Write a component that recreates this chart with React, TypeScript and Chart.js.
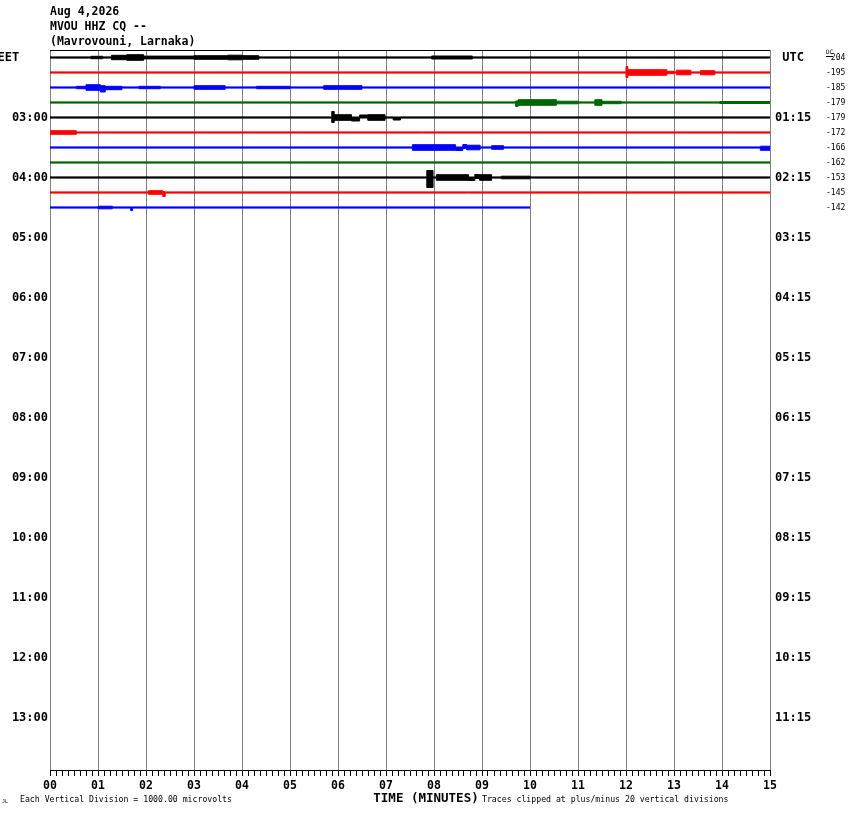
import { useEffect, useRef } from "react";
import { Chart, registerables } from "chart.js";

Chart.register(...registerables);

// ---------- text ----------
const TITLE_LINES = ["Aug 4,2026", "MVOU HHZ CQ --", "(Mavrovouni, Larnaka)"];
const EET_LABELS = ["EET    ", "03:00", "04:00", "05:00", "06:00", "07:00", "08:00", "09:00", "10:00", "11:00", "12:00", "13:00"];
const UTC_LABELS = [" UTC", "01:15", "02:15", "03:15", "04:15", "05:15", "06:15", "07:15", "08:15", "09:15", "10:15", "11:15"];
const DC_LABELS = [" 204", "-195", "-185", "-179", "-179", "-172", "-166", "-162", "-153", "-145", "-142"];
const MINUTE_LABELS = ["00", "01", "02", "03", "04", "05", "06", "07", "08", "09", "10", "11", "12", "13", "14", "15"];
const SCALE_NOTE = "Each Vertical Division = 1000.00 microvolts";
const CLIP_NOTE = "Traces clipped at plus/minus 20 vertical divisions";
const AXIS_TITLE = "TIME (MINUTES)";

// ---------- layout constants of the helicorder ----------
const MINUTES = 15;
const ROWS = 48;
const ROW_H = 15;
const HOUR_ROWS = [0, 4, 8, 12, 16, 20, 24, 28, 32, 36, 40, 44];
const DC_ROWS = [0, 1, 2, 3, 4, 5, 6, 7, 8, 9, 10];

// ---------- traces ----------
const TRACE_COLORS = ["#000000", "#ff0000", "#0000ff", "#006400"];
const TRACE_END = [15, 15, 15, 15, 15, 15, 15, 15, 15, 15, 10];
const NOISE_AMP = [0.6, 0.6, 0.6, 0.6, 0.6, 0.6, 0.6, 0.6, 0.6, 0.6, 0.6];

// [start minute, end minute, amplitude up, amplitude down]
type Ev = [number, number, number, number];
const EVENTS_ROW0: Ev[] = [
  [0.85, 1.1, 1.2, 1.2], [1.28, 1.6, 2.2, 2.2], [1.6, 1.95, 2.8, 2.8], [1.95, 3.0, 1.4, 1.4],
  [3.0, 3.7, 1.8, 1.8], [3.7, 4.0, 2.3, 2.3], [4.0, 4.35, 1.8, 1.8], [7.95, 8.8, 1.5, 1.5],
];
const EVENTS_ROW1: Ev[] = [
  [12.0, 12.04, 6, 5], [12.04, 12.85, 2.8, 2.8], [12.85, 13.0, 1.2, 1.2], [13.05, 13.35, 2.3, 2.3], [13.55, 13.85, 1.8, 2.3],
];
const EVENTS_ROW2: Ev[] = [
  [0.55, 0.75, 1.2, 1.2], [0.75, 1.05, 2.8, 2.8], [1.05, 1.15, 1.8, 4.5], [1.15, 1.5, 1.2, 2.2],
  [1.85, 2.3, 1.2, 1.2], [3.0, 3.65, 1.8, 1.8], [4.3, 5.0, 1.2, 1.2], [5.7, 6.5, 1.8, 1.8],
];
const EVENTS_ROW3: Ev[] = [
  [9.7, 9.75, 1.5, 4], [9.75, 10.55, 2.8, 2.8], [10.55, 11.0, 1.3, 1.3], [11.35, 11.5, 2.8, 2.8],
  [11.5, 11.9, 1.2, 1.2], [13.95, 15.0, 1.0, 1.0],
];
const EVENTS_ROW4: Ev[] = [
  [5.87, 5.92, 6, 5], [5.92, 6.28, 2.8, 2.8], [6.28, 6.45, 0.5, 3.5], [6.45, 6.62, 2.5, 0.5],
  [6.62, 6.98, 2.8, 2.8], [7.15, 7.3, 0.5, 2.5],
];
const EVENTS_ROW5: Ev[] = [[0.0, 0.55, 1.8, 1.8]];
const EVENTS_ROW6: Ev[] = [
  [7.55, 8.45, 2.8, 2.8], [8.45, 8.6, 0.5, 3], [8.6, 8.68, 3, 1], [8.68, 8.96, 2.3, 2.3],
  [9.2, 9.45, 1.8, 1.8], [14.8, 15.0, 1.3, 2.8],
];
const EVENTS_ROW7: Ev[] = [];
const EVENTS_ROW8: Ev[] = [
  [7.85, 7.98, 7, 10], [8.05, 8.72, 2.8, 2.8], [8.72, 8.85, 0.5, 3], [8.85, 8.95, 3, 1],
  [8.95, 9.2, 2.8, 2.8], [9.4, 10.0, 1.3, 1.3],
];
const EVENTS_ROW9: Ev[] = [[2.05, 2.35, 1.8, 1.8], [2.35, 2.4, 1, 4]];
const EVENTS_ROW10: Ev[] = [[1.0, 1.3, 1.3, 1.3], [1.68, 1.72, 0.6, 3]];
const TRACE_EVENTS = [
  EVENTS_ROW0, EVENTS_ROW1, EVENTS_ROW2, EVENTS_ROW3, EVENTS_ROW4, EVENTS_ROW5,
  EVENTS_ROW6, EVENTS_ROW7, EVENTS_ROW8, EVENTS_ROW9, EVENTS_ROW10,
];

const MONO = '"DejaVu Sans Mono", monospace';

function rowCenter(r: number) {
  return ROW_H / 2 + ROW_H * r;
}

function envelope(row: number, events: Ev[], end: number, noise: number) {
  const base = rowCenter(row);
  const segs = [...events].sort((a, b) => a[0] - b[0]);
  const upper: { x: number; y: number }[] = [];
  const lower: { x: number; y: number }[] = [];
  const push = (x: number, u: number, d: number) => {
    upper.push({ x, y: base - u });
    lower.push({ x, y: base + d });
  };
  let t = 0;
  for (const [s, e, u, d] of segs) {
    if (s > t) push(t, noise, noise);
    push(s, u, d);
    t = e;
  }
  if (t < end) push(t, noise, noise);
  push(end, noise, noise);
  return { upper, lower };
}

const X_TICK_VALUES: number[] = [];
for (let m = 0; m <= MINUTES; m++) {
  for (let s = 0; s < 8; s++) {
    if (m === MINUTES && s > 0) break;
    X_TICK_VALUES.push(m + s / 8);
  }
}

const textPlugin = {
  id: "helicorderText",
  beforeDraw(chart: any) {
    const ctx = chart.ctx;
    ctx.save();
    ctx.fillStyle = "#ffffff";
    ctx.fillRect(0, 0, chart.width, chart.height);
    ctx.restore();
  },
  afterDraw(chart: any) {
    const ctx = chart.ctx;
    const { left, right, top, bottom } = chart.chartArea;
    ctx.save();
    ctx.strokeStyle = "#000";
    ctx.lineWidth = 1;
    ctx.beginPath();
    ctx.moveTo(left, top + 0.5);
    ctx.lineTo(right, top + 0.5);
    ctx.stroke();

    ctx.fillStyle = "#000";
    ctx.textAlign = "left";
    ctx.textBaseline = "middle";
    ctx.font = `bold 11.5px ${MONO}`;
    TITLE_LINES.forEach((t, i) => ctx.fillText(t, left, top - 38 + 15 * i));

    // DC mark over the first offset value
    ctx.font = `6px ${MONO}`;
    ctx.fillText("DC", 826, top + 2.5);
    ctx.beginPath();
    ctx.moveTo(826, top + 6.5);
    ctx.lineTo(833, top + 6.5);
    ctx.stroke();

    // bottom notes
    ctx.font = `8.2px ${MONO}`;
    ctx.fillText(SCALE_NOTE, 20, bottom + 30);
    ctx.fillText(CLIP_NOTE, 482, bottom + 30);
    ctx.font = `5px ${MONO}`;
    ctx.fillText("JL", 2, bottom + 32);
    ctx.font = `bold 12.5px ${MONO}`;
    ctx.textAlign = "center";
    ctx.fillText(AXIS_TITLE, 426, bottom + 29);
    ctx.restore();
  },
};

export default function App() {
  const ref = useRef<HTMLCanvasElement | null>(null);

  useEffect(() => {
    if (!ref.current) return;
    const datasets: any[] = [];
    TRACE_EVENTS.forEach((evs, row) => {
      const color = TRACE_COLORS[row % TRACE_COLORS.length];
      const { upper, lower } = envelope(row, evs, TRACE_END[row], NOISE_AMP[row]);
      const common = {
        borderColor: color,
        backgroundColor: color,
        borderWidth: 1,
        pointRadius: 0,
        stepped: true,
      };
      datasets.push({ ...common, data: upper, fill: "+1" });
      datasets.push({ ...common, data: lower, fill: false });
    });

    const yCommon = {
      type: "linear" as const,
      min: 0,
      max: ROWS * ROW_H,
      reverse: true,
      grid: { display: false, drawTicks: false },
      border: { display: false },
    };

    const chart = new Chart(ref.current, {
      type: "line",
      data: { datasets },
      plugins: [textPlugin],
      options: {
        animation: false,
        responsive: false,
        maintainAspectRatio: false,
        events: [],
        layout: { padding: { top: 50, left: 0, right: 0, bottom: 0 } },
        plugins: { legend: { display: false }, tooltip: { enabled: false } },
        scales: {
          x: {
            type: "linear",
            min: 0,
            max: MINUTES,
            position: "bottom",
            afterBuildTicks: (axis: any) => {
              axis.ticks = X_TICK_VALUES.map((value) => ({ value }));
            },
            afterFit: (s: any) => {
              s.height = 44;
            },
            grid: {
              color: (c: any) => (c.tick && Number.isInteger(c.tick.value) ? "#808080" : "rgba(0,0,0,0)"),
              lineWidth: 1,
              drawTicks: true,
              tickLength: 6,
              tickColor: "#000",
              tickWidth: 1,
            },
            border: { display: true, color: "#000", width: 1 },
            ticks: {
              autoSkip: false,
              maxRotation: 0,
              padding: 3,
              color: "#000",
              font: { family: MONO, size: 11.5, weight: "bold" },
              callback: (v: any) => (Number.isInteger(v) ? MINUTE_LABELS[v] : ""),
            },
          },
          y: {
            ...yCommon,
            position: "left",
            afterBuildTicks: (axis: any) => {
              axis.ticks = HOUR_ROWS.map((r) => ({ value: rowCenter(r) }));
            },
            afterFit: (s: any) => {
              s.width = 50;
            },
            ticks: {
              autoSkip: false,
              padding: 2,
              color: "#000",
              font: { family: MONO, size: 12, weight: "bold" },
              callback: (_v: any, i: number) => EET_LABELS[i],
            },
          },
          y2: {
            ...yCommon,
            position: "right",
            weight: 1,
            afterBuildTicks: (axis: any) => {
              axis.ticks = HOUR_ROWS.map((r) => ({ value: rowCenter(r) }));
            },
            afterFit: (s: any) => {
              s.width = 50;
            },
            ticks: {
              autoSkip: false,
              padding: 5,
              color: "#000",
              font: { family: MONO, size: 12, weight: "bold" },
              callback: (_v: any, i: number) => UTC_LABELS[i],
            },
          },
          y3: {
            ...yCommon,
            position: "right",
            weight: 2,
            afterBuildTicks: (axis: any) => {
              axis.ticks = DC_ROWS.map((r) => ({ value: rowCenter(r) }));
            },
            afterFit: (s: any) => {
              s.width = 30;
            },
            ticks: {
              autoSkip: false,
              padding: 6,
              color: "#000",
              font: { family: MONO, size: 8 },
              callback: (_v: any, i: number) => DC_LABELS[i],
            },
          },
        },
      } as any,
    });
    return () => chart.destroy();
  }, []);

  return (
    <div style={{ position: "fixed", left: 0, top: 0, width: 850, height: 814, background: "#fff" }}>
      <canvas ref={ref} width={850} height={814} style={{ display: "block" }} />
    </div>
  );
}
